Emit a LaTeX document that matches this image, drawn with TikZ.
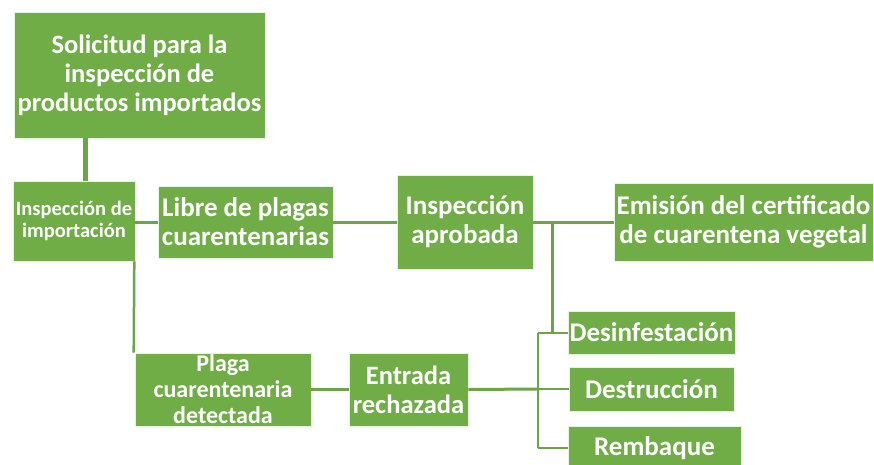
\documentclass[tikz,border=0pt]{standalone}
\usepackage{fontspec}
\setmainfont{Carlito}
\usetikzlibrary{positioning}

\definecolor{boxgreen}{HTML}{70AD47}
\definecolor{linegreen}{HTML}{6BA547}

\tikzset{
  box/.style={fill=boxgreen, draw=white!85!boxgreen, line width=0.6pt, text=white,
              font=\bfseries, align=center, inner sep=0},
  link/.style={draw=linegreen, line width=3pt},
}
\newcommand{\fs}[2]{\fontsize{#1}{#2}\selectfont}

\begin{document}
\begin{tikzpicture}[x=1pt,y=-1pt]
    \useasboundingbox (0,0) rectangle (874,464);

    % boxes
    \node[box, minimum width=251, minimum height=126, font=\bfseries\fs{26.5}{29}] (sol) at (139.5,75)
        {Solicitud para la\\inspección de\\productos importados};
    \node[box, minimum width=122, minimum height=80, font=\bfseries\fs{20.5}{22}] (insimp) at (74,221)
        {Inspección de\\importación};
    \node[box, minimum width=175, minimum height=72, font=\bfseries\fs{27}{29}] (libre) at (245.5,222)
        {Libre de plagas\\cuarentenarias};
    \node[box, minimum width=136, minimum height=94, font=\bfseries\fs{27}{29}] (aprob) at (465,222)
        {Inspección\\aprobada};
    \node[box, minimum width=259, minimum height=78, font=\bfseries\fs{27}{29}] (emis) at (743.5,222)
        {Emisión del certificado\\de cuarentena vegetal};
    \node[box, minimum width=176, minimum height=73, font=\bfseries\fs{24}{26}] (plaga) at (223,389.5)
        {Plaga\\cuarentenaria\\detectada};
    \node[box, minimum width=119, minimum height=73, font=\bfseries\fs{26.5}{29}] (entrada) at (408.5,389.5)
        {Entrada\\rechazada};
    \node[box, minimum width=167, minimum height=43, font=\bfseries\fs{27}{29}] (desinf) at (651.5,332.5)
        {Desinfestación};
    \node[box, minimum width=165, minimum height=44, font=\bfseries\fs{27}{29}] (destr) at (651.5,389)
        {Destrucción};
    \node[box, minimum width=173, minimum height=44, font=\bfseries\fs{27}{29}] (remb) at (654.5,448)
        {Rembaque};

    % connectors
    \coordinate (split) at ([xshift=19pt]aprob.east);
    \coordinate (fork) at ([xshift=-31pt]destr.west);
    \draw[link, line width=5pt] ([xshift=11pt]insimp.north) -- ([xshift=11pt]insimp.north |- sol.south);
    \draw[link] (insimp.east |- libre.west) -- (libre.west);
    \draw[link] (libre.east) -- (aprob.west);
    \draw[link] (aprob.east) -- (emis.west);
    \draw[link] (split) -- (split |- desinf.west);
    \draw[link, line width=2.5pt] ([xshift=-1pt]insimp.south east) -- ([xshift=-1pt]plaga.north west);
    \draw[link] (plaga.east) -- (entrada.west);
    \draw[link] (entrada.east) -- (fork);
    \draw[link, line width=2pt] (fork |- desinf.west) -- (fork |- remb.west);
    \draw[link, line width=2pt] (fork |- desinf.west) -- (desinf.west);
    \draw[link, line width=2pt] (fork) -- (destr.west);
    \draw[link, line width=2pt] (fork |- remb.west) -- (remb.west);

\end{tikzpicture}
\end{document}
